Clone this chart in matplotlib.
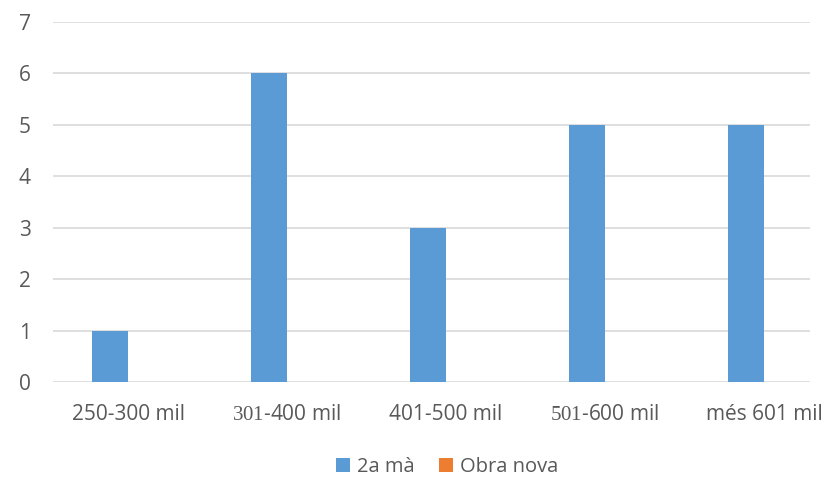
import matplotlib
matplotlib.use("Agg")
import matplotlib.pyplot as plt
import numpy as np

# price bands and counts per type of dwelling
categories = [r"250-300 mil", r"$\mathrm{301}$-400 mil", r"401-500 mil",
              r"$\mathrm{501}$-600 mil", r"més 601 mil"]
segona_ma = [1, 6, 3, 5, 5]
obra_nova = [0, 0, 0, 0, 0]

plt.rcParams['font.family'] = ['Open Sans', 'DejaVu Sans']
plt.rcParams['mathtext.fontset'] = 'custom'
plt.rcParams['mathtext.rm'] = 'Liberation Serif'

fig = plt.figure(figsize=(8.32, 4.83), dpi=100)
ax = fig.add_axes([0.0637, 0.209, 0.9099, 0.7455])

x = np.arange(len(categories))
w = 0.226
ax.bar(x - w / 2, segona_ma, w, color='#5B9BD5', label='2a mà', zorder=3)
ax.bar(x + w / 2, obra_nova, w, color='#ED7D31', label='Obra nova', zorder=3)

ax.set_xlim(-0.472, 4.289)
ax.set_ylim(0, 7)
ax.set_yticks(range(8))
ax.set_xticks(x)
ax.set_xticklabels(categories)
ax.yaxis.grid(True, color='#D9D9D9', linewidth=1.2)
ax.set_axisbelow(True)
for s in ax.spines.values():
    s.set_visible(False)
ax.tick_params(length=0, colors='#595959', labelsize=15)
ax.tick_params(axis='x', pad=16)
ax.tick_params(axis='y', pad=16)

leg = fig.legend(loc='center', bbox_to_anchor=(0.537, 0.033), ncol=2, frameon=False,
                 fontsize=14.5, handlelength=0.7, handleheight=0.7, handletextpad=0.35,
                 columnspacing=1.2)
for t in leg.get_texts():
    t.set_color('#595959')

fig.savefig('out.png', dpi=100)
